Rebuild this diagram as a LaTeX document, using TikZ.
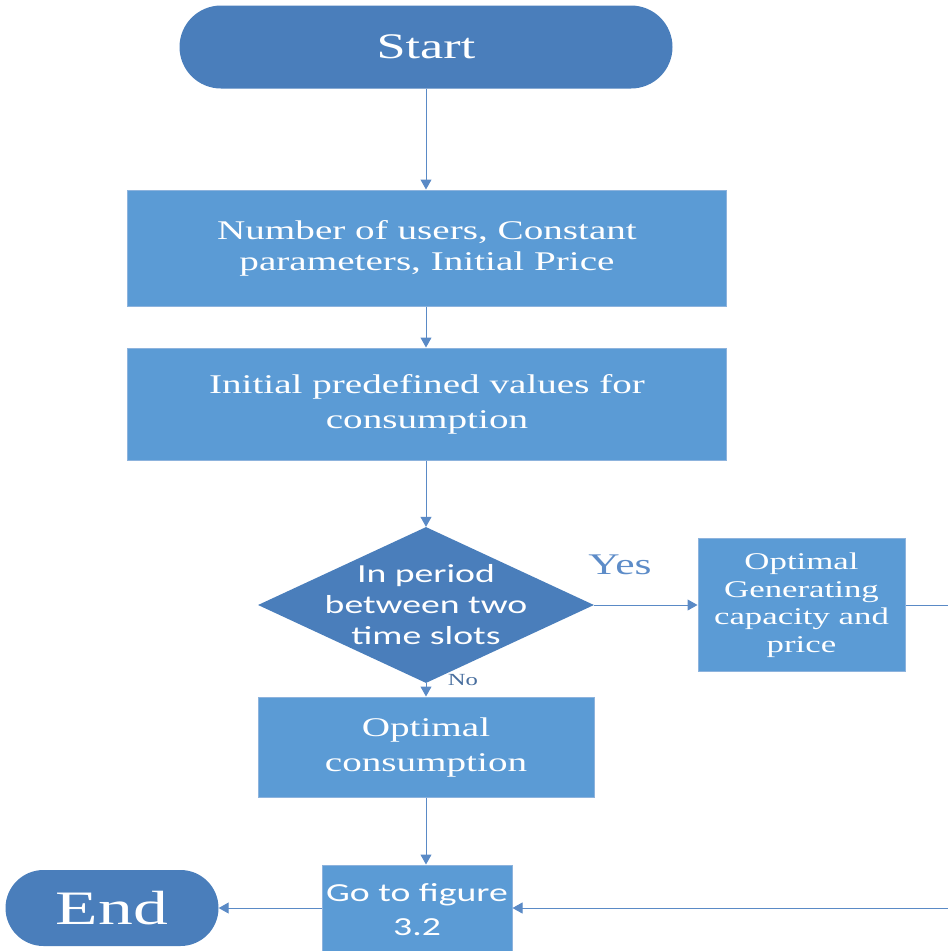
\documentclass[tikz,border=0pt]{standalone}
\usepackage{fontspec}
\setmainfont{Liberation Serif}[FakeStretch=1.45]
\setsansfont{Carlito}[FakeStretch=1.45]
\usetikzlibrary{shapes.geometric,shapes.misc,arrows.meta}
\definecolor{boxblue}{HTML}{5B9BD5}
\definecolor{darkblue}{HTML}{4A7EBB}
\definecolor{lineblue}{HTML}{5A8AC6}
\definecolor{edgeblue}{HTML}{8DB3DD}
\definecolor{yesblue}{HTML}{5D8CC8}
\begin{document}
\begin{tikzpicture}[x=1pt, y=-1pt, >={Triangle[length=10pt,width=11pt]},
  every node/.style={text=white, align=center},
  term/.style={rounded rectangle, fill=darkblue, inner sep=0pt},
  proc/.style={rectangle, fill=boxblue, draw=edgeblue, line width=1pt, inner sep=0pt,
    font=\fontsize{27}{31}\selectfont},
  decision/.style={diamond, fill=darkblue, inner sep=0pt},
  link/.style={draw=lineblue, line width=1pt, ->}]
\clip (0,0) rectangle (948,951);
\node[term, minimum width=493pt, minimum height=83pt, font=\fontsize{36}{40}\selectfont] (start) at (426,47) {Start};
\node[proc, minimum width=599pt, minimum height=116pt] (params) at (427,248) {Number of users, Constant\\parameters, Initial Price};
\node[proc, minimum width=599pt, minimum height=112pt, font=\fontsize{27}{35}\selectfont] (init) at (427,404) {Initial predefined values for\\consumption};
\node[decision, minimum width=336pt, minimum height=156pt] (dec) at (426,605) {};
\node[font=\sffamily\fontsize{26}{31}\selectfont] (dectxt) at (dec) {In period\\between two\\time slots};
\node[proc, minimum width=207pt, minimum height=133pt, font=\fontsize{24}{27.5}\selectfont] (gen) at (801.5,605) {Optimal\\Generating\\capacity and\\price};
\node[proc, minimum width=336pt, minimum height=100pt, font=\fontsize{27}{35}\selectfont] (cons) at (426,747) {Optimal\\consumption};
\node[proc, minimum width=190pt, minimum height=90pt, font=\sffamily\fontsize{26}{34}\selectfont] (goto) at (417,910) {Go to figure\\3.2};
\node[term, minimum width=213pt, minimum height=76pt, font=\fontsize{48}{52}\selectfont] (end) at (112,908) {End};
\node[text=yesblue, font=\fontsize{30}{34}\selectfont] (yes) at (620,565) {Yes};
\node[text=lineblue!80!black, font=\fontsize{17}{20}\selectfont] (no) at (463,680) {No};
\coordinate (rside) at (962,0);
\draw[link] (start.south) -- (params.north -| start.south);
\draw[link] (params.south -| start.south) -- (init.north -| start.south);
\draw[link] (init.south -| start.south) -- (dec.north);
\draw[link] (dec.east) -- (gen.west);
\draw[link] (dec.south) -- (cons.north);
\draw[link] (cons.south) -- (goto.north -| cons.south);
\draw[link] (goto.west |- end.east) -- (end.east);
\draw[link] (gen.east) -| (rside |- end.east) -- (goto.east |- end.east);
\end{tikzpicture}
\end{document}
